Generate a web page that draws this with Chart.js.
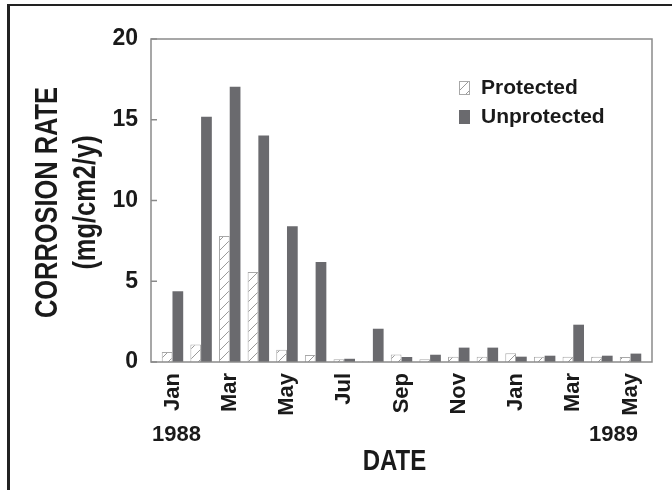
<!DOCTYPE html>
<html>
<head>
<meta charset="utf-8">
<script src="https://cdn.jsdelivr.net/npm/chart.js@4/dist/chart.umd.min.js"></script>
<style>
  html, body { margin: 0; padding: 0; background: #fff; }
  #wrap { position: relative; width: 672px; height: 490px; }
  #frame { position: absolute; left: 7px; top: 4px; right: 0; bottom: 0;
           border-top: 2px solid #222; border-left: 3px solid #222; pointer-events: none; }
  canvas { position: absolute; left: 0; top: 0; }
</style>
</head>
<body>
<div id="wrap">
  <canvas id="chart" width="672" height="490"></canvas>
  <div id="frame"></div>
</div>
<script>
// monthly corrosion rate, Jan 1988 .. May 1989
const months = ["Jan", "Feb", "Mar", "Apr", "May", "Jun", "Jul", "Aug", "Sep",
  "Oct", "Nov", "Dec", "Jan", "Feb", "Mar", "Apr", "May"];
const protectedRate = [0.62, 1.09, 7.8, 5.57, 0.76, 0.43, 0.17, 0.05, 0.46,
  0.17, 0.33, 0.33, 0.54, 0.33, 0.33, 0.33, 0.31];
const unprotectedRate = [4.38, 15.19, 17.05, 14.03, 8.4, 6.19, 0.2, 2.06, 0.31,
  0.45, 0.89, 0.89, 0.33, 0.39, 2.31, 0.39, 0.52];
const labelledMonths = [0, 2, 4, 6, 8, 10, 12, 14, 16];
const yearText = ["1988", "1989"];
const yearAt = [0, 16];
const yTitle = ["CORROSION RATE", "(mg/cm2/y)"];
const xTitle = "DATE";

const SANS = '"Liberation Sans", Arial, sans-serif';
const INK = "#1a1a1a";
const FRAME = "#8a8a8a";

function hatch() {
  const c = document.createElement("canvas");
  c.width = 10; c.height = 10;
  const g = c.getContext("2d");
  g.fillStyle = "#fff";
  g.fillRect(0, 0, 10, 10);
  g.strokeStyle = "#9a9a9a";
  g.lineWidth = 1;
  g.beginPath();
  g.moveTo(-1, 11); g.lineTo(11, -1);
  g.stroke();
  return g.createPattern(c, "repeat");
}
const hatchFill = hatch();

const toPoints = (arr) => arr.map((v, i) => ({ x: i, y: v }));

// the original uses a condensed face for the axis titles; squeeze the text along its run
function condensedText(ctx, text, x, y, rot, squeeze) {
  ctx.save();
  ctx.translate(x, y);
  ctx.rotate(rot);
  ctx.scale(squeeze, 1);
  ctx.fillText(text, 0, 0);
  ctx.restore();
}

// plot frame, inward y ticks, axis titles, year labels and the legend inside the plot
const decorations = {
  id: "decorations",
  afterDatasetsDraw(chart) {
    const { ctx, chartArea: a, scales } = chart;
    ctx.save();
    ctx.strokeStyle = FRAME;
    ctx.lineWidth = 1.5;
    ctx.strokeRect(a.left, a.top, a.right - a.left, a.bottom - a.top);
    scales.y.ticks.forEach((t) => {
      const py = scales.y.getPixelForValue(t.value);
      ctx.beginPath();
      ctx.moveTo(a.left, py);
      ctx.lineTo(a.left + 6, py);
      ctx.stroke();
    });
    ctx.restore();
  },
  afterDraw(chart) {
    const { ctx, chartArea: a, scales } = chart;
    ctx.save();
    ctx.fillStyle = INK;

    // axis titles
    ctx.font = "bold 31px " + SANS;
    ctx.textAlign = "center";
    ctx.textBaseline = "alphabetic";
    const cy = (a.top + a.bottom) / 2 + 2;
    condensedText(ctx, yTitle[0], 57, cy, -Math.PI / 2, 0.82);
    condensedText(ctx, yTitle[1], 95, cy, -Math.PI / 2, 0.82);
    ctx.font = "bold 30px " + SANS;
    condensedText(ctx, xTitle, (a.left + a.right) / 2 - 7, 470, 0, 0.8);

    // years under the first and last month
    ctx.font = "bold 22px " + SANS;
    ctx.textBaseline = "middle";
    ctx.fillText(yearText[0], scales.x.getPixelForValue(yearAt[0]) + 4, 435);
    ctx.fillText(yearText[1], scales.x.getPixelForValue(yearAt[1]) - 17, 435);

    // legend
    const lx = a.right - 193;
    const rows = [a.top + 49, a.top + 78];
    chart.data.datasets.forEach((ds, i) => {
      const y = rows[i];
      ctx.fillStyle = ds.backgroundColor;
      ctx.fillRect(lx, y - 7, 11, 14);
      if (ds.borderWidth) {
        ctx.strokeStyle = ds.borderColor;
        ctx.lineWidth = 1;
        ctx.strokeRect(lx + 0.5, y - 6.5, 10, 13);
      }
      ctx.fillStyle = INK;
      ctx.font = "bold 21px " + SANS;
      ctx.textAlign = "left";
      ctx.fillText(ds.label, lx + 22, y);
    });
    ctx.restore();
  }
};

new Chart(document.getElementById("chart"), {
  type: "bar",
  data: {
    datasets: [
      {
        label: "Protected",
        data: toPoints(protectedRate),
        backgroundColor: hatchFill,
        borderColor: "#a8a8a8",
        borderWidth: 1
      },
      {
        label: "Unprotected",
        data: toPoints(unprotectedRate),
        backgroundColor: "#6a6a6e",
        borderWidth: 0
      }
    ]
  },
  options: {
    responsive: false,
    animation: false,
    events: [],
    categoryPercentage: 0.75,
    barPercentage: 1.0,
    layout: { padding: { top: 39, right: 20, left: 0, bottom: 0 } },
    plugins: { legend: { display: false }, tooltip: { enabled: false } },
    scales: {
      x: {
        type: "linear",
        offset: false,
        min: -0.75,
        max: 16.75,
        afterBuildTicks: (s) => { s.ticks = labelledMonths.map((v) => ({ value: v })); },
        afterFit: (s) => { s.height = 128; },
        grid: { display: false },
        border: { display: false },
        ticks: {
          autoSkip: false,
          minRotation: 90,
          maxRotation: 90,
          padding: 3,
          color: INK,
          font: { family: SANS, size: 22, weight: "bold" },
          callback: (v) => months[v]
        }
      },
      y: {
        min: 0,
        max: 20,
        afterFit: (s) => { s.width = 151; },
        grid: { display: false },
        border: { display: false },
        ticks: {
          stepSize: 5,
          padding: 5,
          color: INK,
          font: { family: SANS, size: 23, weight: "bold" }
        }
      }
    }
  },
  plugins: [decorations]
});
</script>
</body>
</html>
